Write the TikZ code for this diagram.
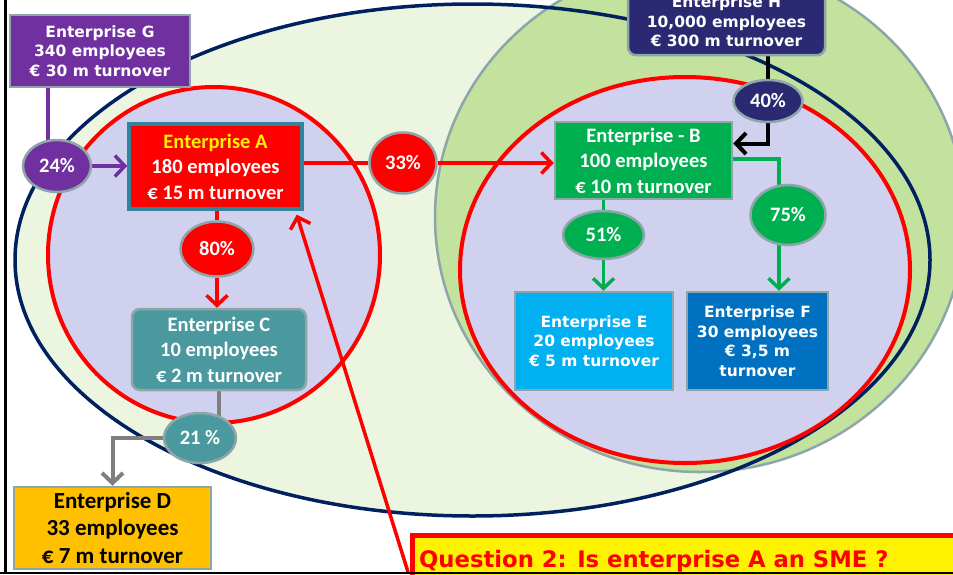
\documentclass[tikz,border=0pt]{standalone}
\usepackage{fontspec}
\setmainfont{DejaVu Sans}
\newfontfamily\verd{DejaVu Sans}
\newfontfamily\calib{Carlito}
\usetikzlibrary{shapes.geometric,arrows.meta}
\pgfdeclarelayer{bgzero}
\pgfdeclarelayer{bgone}
\pgfsetlayers{bgzero,bgone,main}
\definecolor{navyline}{HTML}{002060}
\definecolor{lightgr}{HTML}{EBF5E0}
\definecolor{midgr}{HTML}{C2E29D}
\definecolor{grayedge}{HTML}{8EA5A9}
\definecolor{lav}{HTML}{CFD1EE}
\definecolor{purp}{HTML}{7030A0}
\definecolor{tealA}{HTML}{31849B}
\definecolor{greenB}{HTML}{00B050}
\definecolor{tealC}{HTML}{4A999F}
\definecolor{goldD}{HTML}{FFC000}
\definecolor{cyanE}{HTML}{00B0F0}
\definecolor{blueF}{HTML}{0070C0}
\definecolor{navyH}{HTML}{2A2972}
\definecolor{grayline}{HTML}{7F7F7F}
\begin{document}
\begin{tikzpicture}[x=1pt,y=-1pt,
  vbox/.style={draw=grayedge, line width=2.5pt, inner sep=0pt, align=center, text=white,
    font=\verd\bfseries\fontsize{15.5}{19.5}\selectfont},
  cbox/.style={draw=grayedge, line width=2.5pt, inner sep=0pt, align=center, text=white,
    font=\calib\bfseries\fontsize{20.5}{25.5}\selectfont},
  pct/.style={ellipse, draw=grayedge, line width=2.5pt, inner sep=0pt, text=white,
    font=\calib\bfseries\fontsize{20.5}{24}\selectfont},
  conn/.style={line width=3.5pt},
  arr/.style={line width=3.5pt, -{Straight Barb[length=10pt,width=21pt]}}
]
\useasboundingbox (0,0) rectangle (953,574);
\clip (0,0) rectangle (953,574);

% nodes
\node[vbox, fill=purp, minimum width=180pt, minimum height=72pt] (G) at (100,51)
  {Enterprise G\\340 employees\\€ 30 m turnover};
\node[cbox, fill=red, draw=tealA, line width=3.5pt, minimum width=173pt, minimum height=85pt] (A) at (215.5,166.5)
  {\textcolor{yellow}{Enterprise A}\\180 employees\\€ 15 m turnover};
\node[cbox, fill=greenB, minimum width=177pt, minimum height=77pt] (B) at (643.5,160.5)
  {Enterprise - B\\100 employees\\€ 10 m turnover};
\node[cbox, fill=tealC, rounded corners=8pt, minimum width=174pt, minimum height=81pt] (C) at (219,349.5)
  {Enterprise C\\10 employees\\€ 2 m turnover};
\node[cbox, fill=goldD, text=black, font=\calib\bfseries\fontsize{23}{27.5}\selectfont,
  minimum width=197pt, minimum height=82pt] (D) at (112.5,528)
  {Enterprise D\\33 employees\\€ 7 m turnover};
\node[vbox, fill=cyanE, minimum width=158pt, minimum height=98pt] (E) at (594,341)
  {Enterprise E\\20 employees\\€ 5 m turnover};
\node[vbox, fill=blueF, minimum width=141pt, minimum height=98pt] (F) at (757.5,341)
  {Enterprise F\\30 employees\\€ 3,5 m\\turnover};
\node[vbox, fill=navyH, rounded corners=8pt, minimum width=197pt, minimum height=67pt] (H) at (726.5,21.7)
  {Enterprise H\\10,000 employees\\€ 300 m turnover};

\node[pct, fill=purp, minimum width=68pt, minimum height=52pt] (p24) at (57,166) {24\%};
\node[pct, fill=red, minimum width=73pt, minimum height=55pt] (p80) at (217,249) {80\%};
\node[pct, fill=red, minimum width=67pt, minimum height=61pt] (p33) at (403,163) {33\%};
\node[pct, fill=navyH, minimum width=69pt, minimum height=42pt] (p40) at (768,101) {40\%};
\node[pct, fill=greenB, minimum width=81pt, minimum height=48pt] (p51) at (603.5,235) {51\%};
\node[pct, fill=greenB, minimum width=75pt, minimum height=60pt] (p75) at (788,215) {75\%};
\node[pct, fill=tealC, minimum width=72pt, minimum height=50pt] (p21) at (200,438) {21 \%};

% question box
\node[draw=red, line width=4.5pt, fill=yellow, minimum width=600pt, minimum height=80pt,
  anchor=north west, inner sep=0pt] (Q) at (410,533) {};
\node[anchor=base west, text=red, inner sep=0pt,
  font=\verd\bfseries\fontsize{22.7}{27}\selectfont] (Qt) at (419,567)
  {Question 2: Is enterprise A an SME ?};
\coordinate (qc) at (408,572);

% background shapes
\begin{pgfonlayer}{bgzero}
  \fill[lightgr] (472.5,260) ellipse [x radius=457.5, y radius=256];
  \draw[fill=midgr, draw=grayedge, line width=2.5pt] (700,217) ellipse [x radius=265, y radius=255];
  \draw[navyline, line width=3.5pt] (472.5,260) ellipse [x radius=457.5, y radius=256];
  \draw[red, fill=lav, line width=4pt] (214,255) ellipse [x radius=166, y radius=168];
  \draw[red, fill=lav, line width=4pt] (685,270) ellipse [x radius=225, y radius=193];
\end{pgfonlayer}

% connectors
\begin{pgfonlayer}{bgone}
  \coordinate (g24) at ([xshift=-9pt]p24.center);
  \draw[conn, purp] (G.south -| g24) -- (g24);
  \draw[arr, purp] (p24) -- (A.west |- p24);
  \draw[conn, red] (A.south -| p80) -- (p80);
  \draw[arr, red] (p80) -- (p80 |- C.north);
  \draw[conn, red] (A.east |- p33) -- (p33);
  \draw[arr, red] (p33) -- (B.west |- p33);
  \draw[conn, black, line width=4pt] (H.south -| p40) -- (p40);
  \draw[arr, black, line width=4pt] (p40) |- ([yshift=17pt]B.east);
  \draw[conn, greenB] (B.south -| p51) -- (p51);
  \draw[arr, greenB] (p51) -- (p51 |- E.north);
  \coordinate (b75) at ([xshift=-9pt]p75.center);
  \draw[conn, greenB] ([yshift=1.5pt]B.east) -| (b75);
  \draw[arr, greenB] (b75) -- (b75 |- F.north);
  \draw[conn, grayline, line width=4pt] (C.south) -- (C.south |- p21);
  \draw[arr, grayline, line width=4pt] (p21) -| (D.north);
  \draw[arr, red] (qc) -- ([xshift=-7pt,yshift=-4pt]A.south east);
\end{pgfonlayer}

% frame lines
\draw[black, line width=2.7pt] (5.3,0) -- (5.3,574);
\draw[black, line width=2.5pt] (0,573) -- (953,573);
\end{tikzpicture}
\end{document}
